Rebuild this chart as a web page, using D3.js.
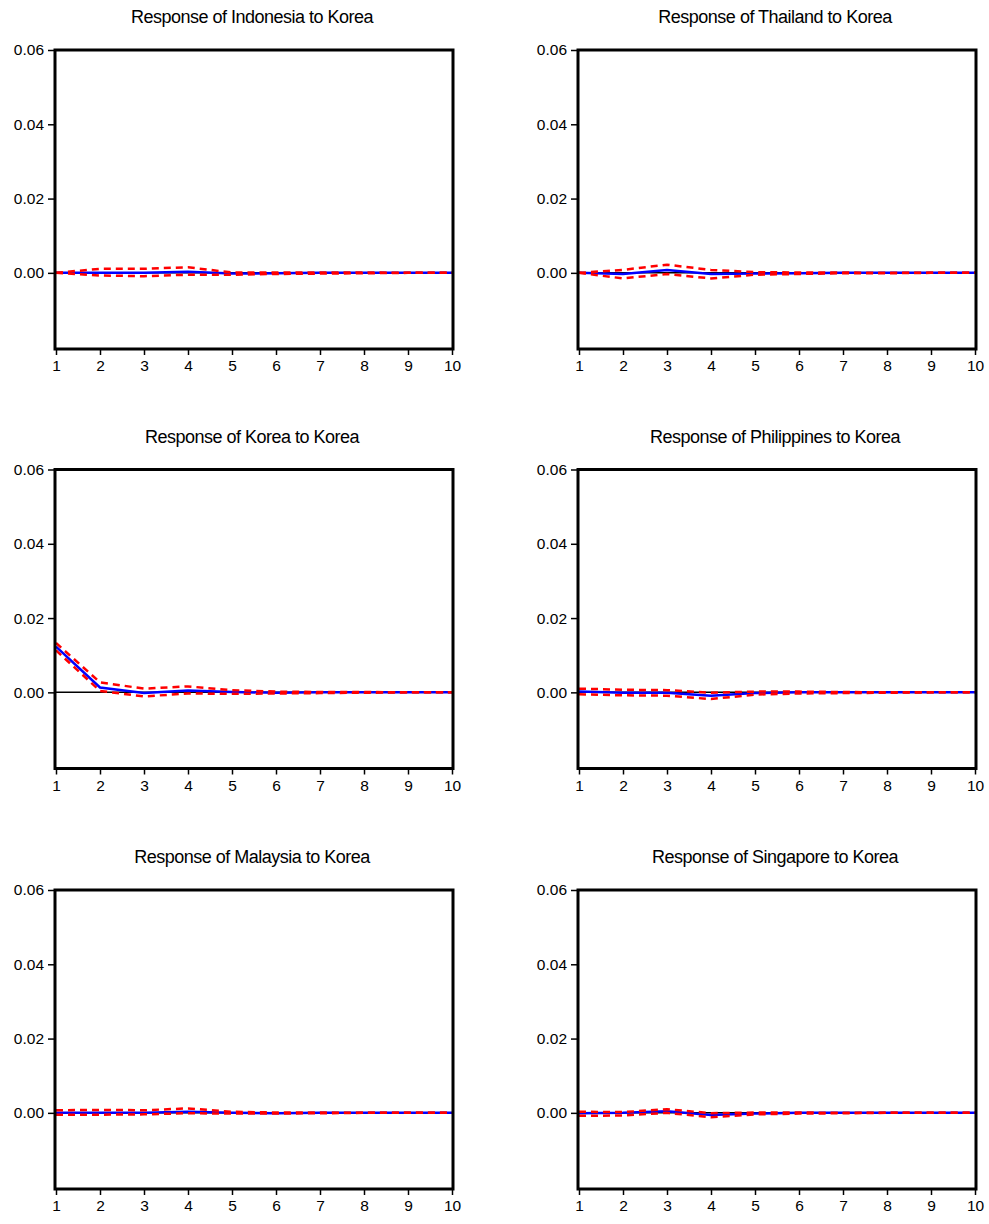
<!DOCTYPE html>
<html>
<head>
<meta charset="utf-8">
<script src="https://cdn.jsdelivr.net/npm/d3@7/dist/d3.min.js"></script>
<style>
  body { margin: 0; background: #fff; }
  text { font-family: "Liberation Sans", Arial, sans-serif; fill: #000; }
</style>
</head>
<body>
<div id="mainGraphic"></div>
<script>
let svgWidth = 989
let svgHeight = 1224

// periods 1..10
let periods = [1, 2, 3, 4, 5, 6, 7, 8, 9, 10]
let yTicks = [0, 0.02, 0.04, 0.06]

let titles = [
  "Response of Indonesia to Korea", "Response of Thailand to Korea",
  "Response of Korea to Korea", "Response of Philippines to Korea",
  "Response of Malaysia to Korea", "Response of Singapore to Korea"
]

// impulse responses
let indonesiaMid = [0, 0, 0, 0.0003, -0.0002, -0.0001, 0, 0, 0, 0]
let indonesiaUp  = [0, 0.0011, 0.0011, 0.0015, 0.0001, 0.0001, 0.0001, 0.0001, 0, 0]
let indonesiaLo  = [0, -0.0007, -0.0009, -0.0005, -0.0005, -0.0003, -0.0002, -0.0001, 0, 0]

let thailandMid = [0, -0.0003, 0.0008, -0.0003, -0.0002, -0.0001, 0, 0, 0, 0]
let thailandUp  = [0, 0.0008, 0.0022, 0.0008, 0.0002, 0.0001, 0.0001, 0, 0, 0]
let thailandLo  = [0, -0.0015, -0.0003, -0.0015, -0.0005, -0.0003, -0.0001, -0.0001, 0, 0]

let koreaMid = [0.0123, 0.0013, -0.0002, 0.0005, 0.0001, -0.0001, 0, 0, 0, 0]
let koreaUp  = [0.0133, 0.0027, 0.0010, 0.0016, 0.0006, 0.0002, 0.0001, 0.0001, 0, 0]
let koreaLo  = [0.0113, 0.0004, -0.0011, -0.0003, -0.0004, -0.0003, -0.0002, -0.0001, 0, 0]

let philippinesMid = [0.0002, -0.0001, -0.0001, -0.0009, -0.0002, 0, 0, 0, 0, 0]
let philippinesUp  = [0.0010, 0.0007, 0.0006, -0.0001, 0.0002, 0.0002, 0.0001, 0, 0, 0]
let philippinesLo  = [-0.0005, -0.0008, -0.0009, -0.0018, -0.0006, -0.0003, -0.0002, -0.0001, 0, 0]

let malaysiaMid = [0, 0, 0, 0.0003, 0, -0.0001, 0, 0, 0, 0]
let malaysiaUp  = [0.0007, 0.0008, 0.0007, 0.0012, 0.0003, 0.0001, 0.0001, 0, 0, 0]
let malaysiaLo  = [-0.0005, -0.0005, -0.0004, -0.0001, -0.0002, -0.0002, -0.0001, 0, 0, 0]

let singaporeMid = [-0.0001, 0, 0.0004, -0.0006, -0.0002, 0, 0, 0, 0, 0]
let singaporeUp  = [0.0003, 0.0002, 0.0010, -0.0001, 0.0001, 0.0001, 0, 0, 0, 0]
let singaporeLo  = [-0.0008, -0.0007, 0, -0.0012, -0.0004, -0.0002, -0.0001, 0, 0, 0]

let panels = [
  [indonesiaMid, indonesiaUp, indonesiaLo],
  [thailandMid, thailandUp, thailandLo],
  [koreaMid, koreaUp, koreaLo],
  [philippinesMid, philippinesUp, philippinesLo],
  [malaysiaMid, malaysiaUp, malaysiaLo],
  [singaporeMid, singaporeUp, singaporeLo]
]

renderPanels();

function renderPanels(){
  let graphic = d3.select("#mainGraphic")
    .append("svg")
      .attr("width", svgWidth)
      .attr("height", svgHeight)

  let colLeft = [55, 578]
  let rowTop = [50, 469.5, 890]
  let plotW = 398
  let plotH = 299

  panels.forEach(function(series, i){
    let left = colLeft[i % 2]
    let top = rowTop[Math.floor(i / 2)]

    let x = d3.scaleLinear().domain([1, 10]).range([left + 1, left + plotW - 1])
    let y = d3.scaleLinear().domain([-0.0205, 0.06]).range([top + plotH, top])

    let g = graphic.append("g")

    g.append("text")
      .attr("x", left + plotW / 2 - 2)
      .attr("y", top - 27)
      .attr("text-anchor", "middle")
      .style("font-size", "18px")
      .style("letter-spacing", "-0.5px")
      .text(titles[i])

    // zero line
    g.append("line")
      .attr("x1", left).attr("x2", left + plotW)
      .attr("y1", y(0)).attr("y2", y(0))
      .attr("stroke", "black")
      .attr("stroke-width", 1.5)

    let line = d3.line()
      .x((d, k) => x(periods[k]))
      .y(d => y(d))

    g.append("path")
      .attr("d", line(series[0]))
      .attr("fill", "none")
      .attr("stroke", "#0000ff")
      .attr("stroke-width", 2.5)

    ;[series[1], series[2]].forEach(function(band){
      g.append("path")
        .attr("d", line(band))
        .attr("fill", "none")
        .attr("stroke", "#ff0000")
        .attr("stroke-width", 2.5)
        .attr("stroke-dasharray", "7,5")
    })

    // frame
    g.append("rect")
      .attr("x", left).attr("y", top)
      .attr("width", plotW).attr("height", plotH)
      .attr("fill", "none")
      .attr("stroke", "black")
      .attr("stroke-width", 3)

    let yAxis = g.append("g")
      .attr("transform", "translate(" + left + ",0)")
      .call(d3.axisLeft(y).tickValues(yTicks).tickSize(7).tickPadding(4).tickFormat(d3.format(".2f")))
    yAxis.select(".domain").remove()
    yAxis.selectAll(".tick line").attr("stroke-width", 1.5)
    yAxis.selectAll("text").style("font-size", "15.5px").attr("font-family", null)

    let xAxis = g.append("g")
      .attr("transform", "translate(0," + (top + plotH) + ")")
      .call(d3.axisBottom(x).tickValues(periods).tickSize(6).tickPadding(5).tickFormat(d3.format("d")))
    xAxis.select(".domain").remove()
    xAxis.selectAll(".tick line").attr("stroke-width", 1.5)
    xAxis.selectAll("text").style("font-size", "15.5px").attr("font-family", null)
  })
}
</script>
</body>
</html>
